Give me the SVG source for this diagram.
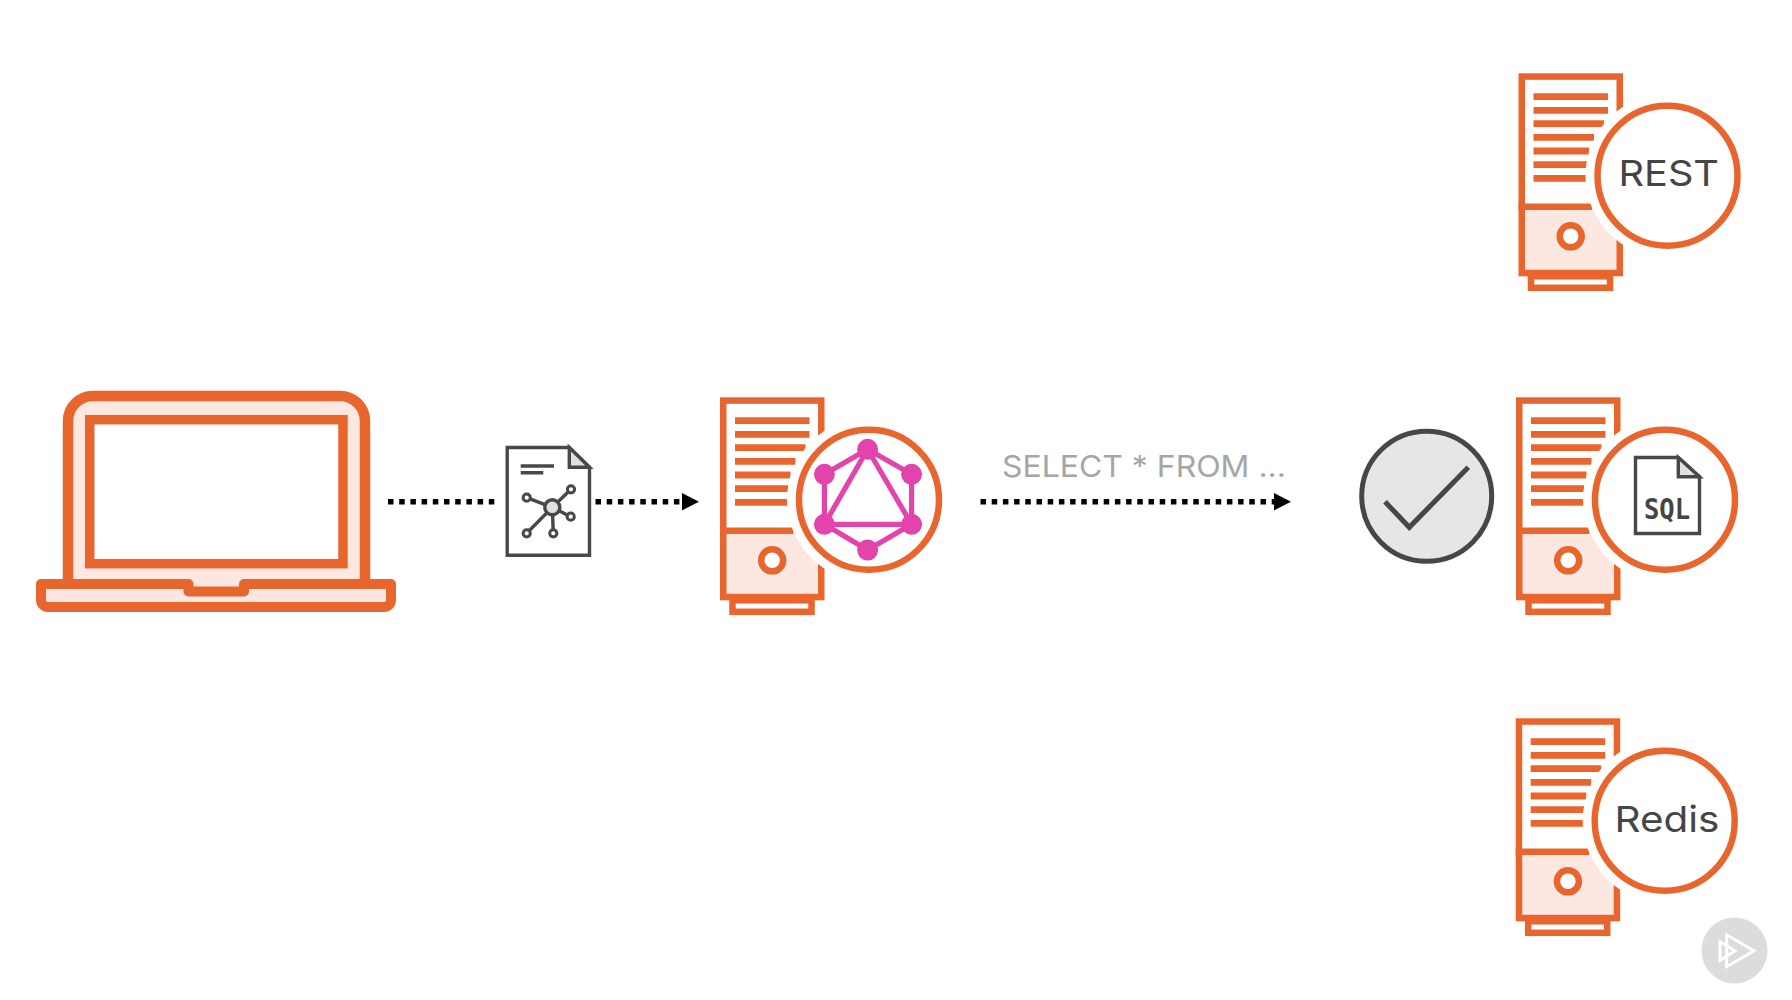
<svg xmlns="http://www.w3.org/2000/svg" xmlns:xlink="http://www.w3.org/1999/xlink" width="1792" height="1000" viewBox="0 0 1792 1000">
<style>
.o{fill:none;stroke:#e8652e;stroke-width:6.5}
.ol{stroke:#e8652e;stroke-width:6.8;fill:none}
.d{fill:none;stroke:#484848;stroke-width:3.4}
.g{stroke:#e244ab;stroke-width:5.2;fill:none}
.gn{fill:#e244ab}
.t{font-family:Inter,"Liberation Sans",sans-serif;font-weight:400;fill:#454545;font-size:36px}
.dots{stroke:#000;stroke-width:5.5;stroke-dasharray:5.5 5.7;fill:none}
</style>
<defs>
<marker id="ah" markerUnits="userSpaceOnUse" markerWidth="18" markerHeight="18" refX="0" refY="9" orient="auto"><path d="M0 0.3L17 9L0 17.7Z" fill="#000"/></marker>
<g id="tower">
<rect x="3.25" y="133.4" width="98" height="66.4" fill="#fce8e0"/>
<rect class="o" x="3.25" y="3.25" width="98" height="196.5"/>
<rect class="o" x="12.5" y="203" width="79" height="11.5"/>
<path class="ol" d="M15 23.4H89.5M15 37H89.5M15 50.4H85.5M15 64H75.5M15 77.7H70.5M15 91.4H68.5M15 105H68.5"/>
<path class="o" d="M0 133.4H73.5"/>
<circle cx="52.2" cy="163" r="11" fill="#fff" stroke="#e8652e" stroke-width="6.5"/>
<circle cx="149" cy="102.4" r="82" fill="#fff"/>
<circle class="o" cx="149" cy="102.4" r="70" fill="#fff"/>
</g>
</defs>
<rect width="1792" height="1000" fill="#fff"/>
<g id="connectors">
<path class="dots" d="M388 501.7H497"/>
<path class="dots" d="M595.5 501.7H682" marker-end="url(#ah)"/>
<path class="dots" d="M980.5 501.7H1274" marker-end="url(#ah)"/>
</g>
<g id="laptop">
<path d="M68 590V421a25 25 0 0 1 25-25H340a25 25 0 0 1 25 25V590" fill="#fce8e0" stroke="#e8652e" stroke-width="10.5"/>
<rect x="89.7" y="419.7" width="253.3" height="144" fill="#fff" stroke="#e8652e" stroke-width="9.5"/>
<path d="M41 584H188.5V591.5H244V584H391V600a7 7 0 0 1-7 7H48a7 7 0 0 1-7-7Z" fill="#fce8e0" stroke="#e8652e" stroke-width="10" stroke-linejoin="round"/>
</g>
<g id="query-doc">
<path d="M507.2 447.5H569.3L589.5 467.3V555.2H507.2Z" fill="#fff" class="d"/>
<path d="M569.3 447.5V467.3H589.5Z" fill="#e0e0e0" stroke="#484848" stroke-width="3.4"/>
<path class="d" d="M520.7 466H554M520.7 472.7H543.3M552.3 507.3L526.7 497.7M552.3 507.3L571 489.3M552.3 507.3L570.7 516.7M552.3 507.3L526.7 533.3M552.3 507.3L553.3 533.3"/>
<circle cx="552.3" cy="507.3" r="7.5" fill="#e0e0e0" stroke="#484848" stroke-width="3.4"/>
<g fill="#fff" stroke="#484848" stroke-width="3"><circle cx="526.7" cy="497.7" r="3.6"/><circle cx="571" cy="489.3" r="3.6"/><circle cx="570.7" cy="516.7" r="3.6"/><circle cx="526.7" cy="533.3" r="3.6"/><circle cx="553.3" cy="533.3" r="3.6"/></g>
</g>
<g id="graphql-server">
<use href="#tower" transform="translate(720 397.3)"/>
<path class="g" d="M867.6 449.3L824.4 474.3V524.3L867.6 550L911.6 524.3V474.3ZM867.6 449.3L824.4 524.3H911.6Z"/>
<g class="gn"><circle cx="867.6" cy="449.3" r="10.5"/><circle cx="824.4" cy="474.3" r="10.5"/><circle cx="911.6" cy="474.3" r="10.5"/><circle cx="824.4" cy="524.3" r="10.5"/><circle cx="911.6" cy="524.3" r="10.5"/><circle cx="867.6" cy="550" r="10.5"/></g>
</g>
<text id="query-label" x="1002" y="477.3" textLength="284" lengthAdjust="spacingAndGlyphs" font-family="Inter,'Liberation Sans',sans-serif" font-size="29.5" font-weight="400" fill="#a6a6a6">SELECT * FROM ...</text>
<g id="check">
<circle cx="1426.7" cy="496.2" r="65" fill="#e6e6e6" stroke="#474747" stroke-width="5"/>
<path d="M1385 501.7L1409.3 527.3L1468.3 467.3" fill="none" stroke="#474747" stroke-width="5"/>
</g>
<g id="rest-server">
<use href="#tower" transform="translate(1518.5 73.3)"/>
<text class="t" x="1618.5" y="186" textLength="100.5" lengthAdjust="spacingAndGlyphs">REST</text>
</g>
<g id="sql-server">
<use href="#tower" transform="translate(1516 397.3)"/>
<path d="M1635.5 457.5H1678.3L1699.5 476.7V533.5H1635.5Z" fill="#fff" stroke="#484848" stroke-width="3.4"/>
<path d="M1678.3 457.5V476.7H1699.5Z" fill="#e0e0e0" stroke="#484848" stroke-width="3.4"/>
<text x="1644" y="519" textLength="46" lengthAdjust="spacingAndGlyphs" font-family="'DejaVu Sans Mono',monospace" font-weight="700" font-size="29" fill="#454545">SQL</text>
</g>
<g id="redis-server">
<use href="#tower" transform="translate(1515.7 718.3)"/>
<text class="t" x="1614.5" y="832" textLength="105" lengthAdjust="spacingAndGlyphs">Redis</text>
</g>
<g id="play-badge">
<circle cx="1734.5" cy="950.5" r="33" fill="#dcdcdc"/>
<path d="M1726.7 935L1754 950.7L1726.7 966.7ZM1720 941.7L1735 950.7L1720 960.5Z" fill="none" stroke="#fff" stroke-width="3"/>
</g>
</svg>
